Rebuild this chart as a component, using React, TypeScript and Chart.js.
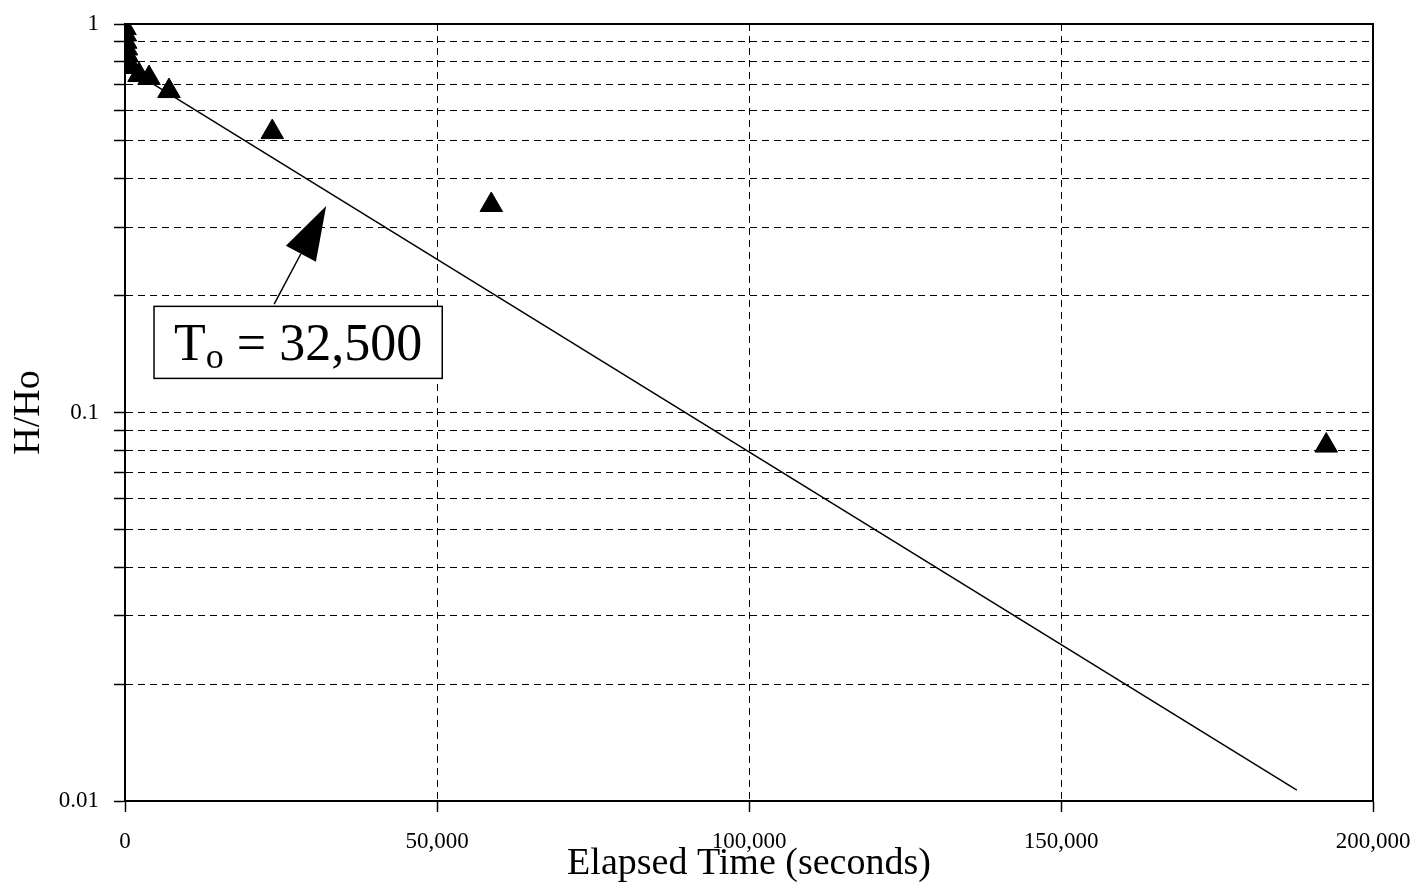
import React, { useEffect, useRef } from "react";
import { Chart, registerables } from "chart.js";

Chart.register(...registerables);

// ---- data ----
const elapsedSeconds = [0, 60, 120, 240, 360, 480, 600, 2245, 3850, 7050, 23600, 58700, 192500];
const headRatio = [0.976, 0.94, 0.9, 0.865, 0.83, 0.8, 0.775, 0.739, 0.726, 0.672, 0.527, 0.342, 0.0822];

const fitTimes = [0, 187800];
const fitRatio = [0.777, 0.01067];

const yGridValues = [
  0.01, 0.02, 0.03, 0.04, 0.05, 0.06, 0.07, 0.08, 0.09,
  0.1, 0.2, 0.3, 0.4, 0.5, 0.6, 0.7, 0.8, 0.9, 1,
];
const yLabelValues = [0.01, 0.1, 1];
const yLabelTexts = ["0.01", "0.1", "1"];

const xTickValues = [0, 50000, 100000, 150000, 200000];
const xTickLabels = ["0", "50,000", "100,000", "150,000", "200,000"];

const xTitle = "Elapsed Time (seconds)";
const yTitle = "H/Ho";

// annotation: "T" + subscript "o" + " = 32,500"
const annotationParts = ["T", "o", " = 32,500"];
const arrowTail = [23900, 0.19];
const arrowTip = [32240, 0.34];
const labelBox = [4650, 0.1876, 50840, 0.1224];

const FONT = "'Liberation Serif', 'Times New Roman', serif";

const overlayPlugin = {
  id: "overlay",
  afterDatasetsDraw(chart: any) {
    const { ctx, chartArea, scales } = chart;
    const xs = scales.x;
    const ys = scales.y;
    ctx.save();

    // frame
    ctx.strokeStyle = "#000";
    ctx.lineWidth = 2;
    ctx.setLineDash([]);
    ctx.strokeRect(chartArea.left, chartArea.top, chartArea.right - chartArea.left, chartArea.bottom - chartArea.top);

    // arrow
    const tx = xs.getPixelForValue(arrowTail[0]);
    const ty = ys.getPixelForValue(arrowTail[1]);
    const px = xs.getPixelForValue(arrowTip[0]);
    const py = ys.getPixelForValue(arrowTip[1]);
    const dx = px - tx;
    const dy = py - ty;
    const len = Math.sqrt(dx * dx + dy * dy);
    const ux = dx / len;
    const uy = dy / len;
    const headLen = 54;
    const headHalf = 17;
    const bx = px - ux * headLen;
    const by = py - uy * headLen;
    ctx.lineWidth = 1.5;
    ctx.beginPath();
    ctx.moveTo(tx, ty);
    ctx.lineTo(bx, by);
    ctx.stroke();
    ctx.fillStyle = "#000";
    ctx.beginPath();
    ctx.moveTo(px, py);
    ctx.lineTo(bx - uy * headHalf, by + ux * headHalf);
    ctx.lineTo(bx + uy * headHalf, by - ux * headHalf);
    ctx.closePath();
    ctx.fill();

    // label box
    const l = xs.getPixelForValue(labelBox[0]);
    const t = ys.getPixelForValue(labelBox[1]);
    const r = xs.getPixelForValue(labelBox[2]);
    const b = ys.getPixelForValue(labelBox[3]);
    ctx.fillStyle = "#fff";
    ctx.fillRect(l, t, r - l, b - t);
    ctx.strokeStyle = "#000";
    ctx.lineWidth = 1.5;
    ctx.strokeRect(l, t, r - l, b - t);

    const big = 52;
    const small = 36;
    ctx.fillStyle = "#000";
    ctx.textBaseline = "alphabetic";
    ctx.textAlign = "left";
    ctx.font = `${big}px ${FONT}`;
    const w0 = ctx.measureText(annotationParts[0]).width;
    const w2 = ctx.measureText(annotationParts[2]).width;
    ctx.font = `${small}px ${FONT}`;
    const w1 = ctx.measureText(annotationParts[1]).width;
    const total = w0 + w1 + w2;
    let x = (l + r) / 2 - total / 2;
    const base = (t + b) / 2 + big * 0.33;
    ctx.font = `${big}px ${FONT}`;
    ctx.fillText(annotationParts[0], x, base);
    x += w0;
    ctx.font = `${small}px ${FONT}`;
    ctx.fillText(annotationParts[1], x, base + 8);
    x += w1;
    ctx.font = `${big}px ${FONT}`;
    ctx.fillText(annotationParts[2], x, base);

    ctx.restore();
  },
};

export default function App() {
  const canvasRef = useRef<HTMLCanvasElement | null>(null);

  useEffect(() => {
    const canvas = canvasRef.current;
    if (!canvas) return;
    Chart.defaults.font.family = FONT;
    Chart.defaults.color = "#000";

    const chart = new Chart(canvas, {
      type: "scatter",
      data: {
        datasets: [
          {
            type: "line",
            label: "fit",
            data: fitTimes.map((t, i) => ({ x: t, y: fitRatio[i] })),
            borderColor: "#000",
            borderWidth: 1.5,
            pointRadius: 0,
            fill: false,
            order: 2,
          } as any,
          {
            type: "scatter",
            label: "H/Ho",
            data: elapsedSeconds.map((t, i) => ({ x: t, y: headRatio[i] })),
            pointStyle: "triangle",
            pointRadius: 13,
            backgroundColor: "#000",
            borderColor: "#000",
            borderWidth: 1,
            order: 1,
          } as any,
        ],
      },
      options: {
        responsive: false,
        animation: false,
        layout: { padding: { top: 24, right: 44, bottom: 0, left: 0 } },
        plugins: {
          legend: { display: false },
          tooltip: { enabled: false },
        },
        scales: {
          x: {
            type: "linear",
            min: 0,
            max: 200000,
            afterBuildTicks: (scale: any) => {
              scale.ticks = xTickValues.map((v) => ({ value: v }));
            },
            afterFit: (scale: any) => {
              scale.height = 93;
              scale.paddingLeft = 0;
              scale.paddingRight = 0;
            },
            ticks: {
              autoSkip: false,
              maxRotation: 0,
              padding: 16,
              font: { size: 23, family: FONT },
              color: "#000",
              callback: (value: any) => {
                const i = xTickValues.indexOf(Number(value));
                return i >= 0 ? xTickLabels[i] : "";
              },
            },
            grid: {
              color: "#000",
              lineWidth: 1,
              tickLength: 11,
              tickWidth: 1.5,
              tickColor: "#000",
            },
            border: { display: true, color: "#000", width: 2, dash: [7, 5] },
            title: {
              display: true,
              text: xTitle,
              font: { size: 38, family: FONT },
              color: "#000",
              padding: { top: 0, bottom: 7 },
            },
          },
          y: {
            type: "logarithmic",
            min: 0.01,
            max: 1,
            afterBuildTicks: (scale: any) => {
              scale.ticks = yGridValues.map((v) => ({ value: v }));
            },
            afterFit: (scale: any) => {
              scale.width = 125;
              scale.paddingTop = 0;
              scale.paddingBottom = 0;
            },
            ticks: {
              autoSkip: false,
              padding: 15,
              font: { size: 23, family: FONT },
              color: "#000",
              callback: (value: any) => {
                const v = Number(value);
                const i = yLabelValues.findIndex((lv) => Math.abs(lv - v) < 1e-9);
                return i >= 0 ? yLabelTexts[i] : "";
              },
            },
            grid: {
              color: "#000",
              lineWidth: 1,
              tickLength: 11,
              tickWidth: 1.5,
              tickColor: "#000",
            },
            border: { display: true, color: "#000", width: 2, dash: [7, 5] },
            title: {
              display: true,
              text: yTitle,
              font: { size: 38, family: FONT },
              color: "#000",
              padding: { top: 6, bottom: 0 },
            },
          },
        },
      } as any,
      plugins: [overlayPlugin],
    });

    return () => chart.destroy();
  }, []);

  return (
    <div style={{ position: "absolute", left: 0, top: 0, width: 1417, height: 894, background: "#fff" }}>
      <canvas ref={canvasRef} width={1417} height={894} style={{ display: "block" }} />
    </div>
  );
}
